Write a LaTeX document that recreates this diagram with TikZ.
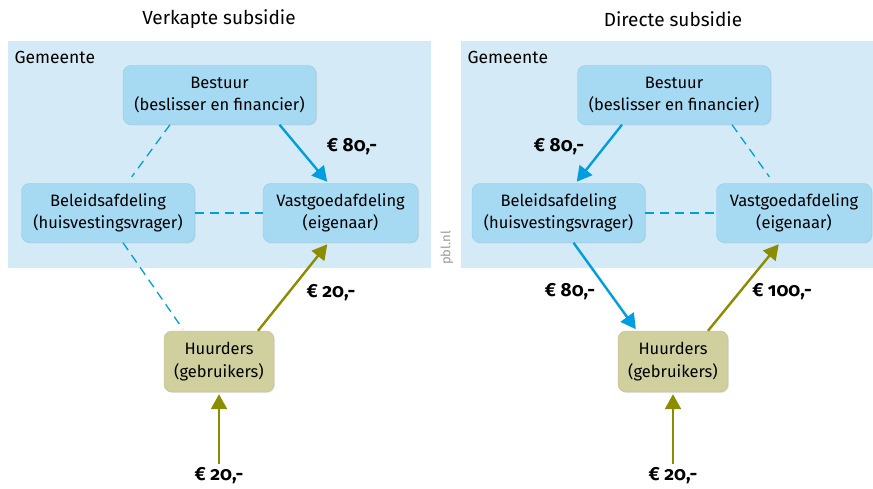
\documentclass[tikz,border=0pt]{standalone}
\usepackage{fontspec}
\setmainfont{Fira Sans}
\newfontfamily\amountfont[Numbers=OldStyle]{Fira Sans}
\usetikzlibrary{arrows.meta,positioning,shadows}
\definecolor{panelblue}{HTML}{D4EBF7}
\definecolor{boxblue}{HTML}{A6D9F2}
\definecolor{boxedge}{HTML}{93CBE8}
\definecolor{boxolive}{HTML}{D0D09E}
\definecolor{oliveedge}{HTML}{BDBD8A}
\definecolor{flowblue}{HTML}{009EE0}
\definecolor{flowolive}{HTML}{8C8C00}
\definecolor{markgray}{HTML}{9A9A9A}
\tikzset{
unit/.style={draw=boxedge,fill=boxblue,rounded corners=8pt,minimum height=59pt,align=center,font=\fontsize{16.5}{22.5}\selectfont,drop shadow={opacity=.2,shadow xshift=1pt,shadow yshift=-1pt}},
tenant/.style={unit,draw=oliveedge,fill=boxolive,minimum width=110pt,minimum height=61pt},
amount/.style={font=\amountfont\bfseries\fontsize{19}{21}\selectfont},
title/.style={font=\fontsize{19}{21}\selectfont},
moneyblue/.style={-{Triangle[length=15pt,width=16pt]},line width=2.4pt,flowblue,shorten >=2pt},
moneyolive/.style={-{Triangle[length=15pt,width=16pt]},line width=2.4pt,flowolive,shorten >=2pt},
link/.style={draw=flowblue,line width=1.3pt,dash pattern=on 9pt off 6pt}
}
\begin{document}
\begin{tikzpicture}[x=1pt,y=-1pt]
\useasboundingbox (0,0) rectangle (873,489);
% verkapte subsidie
\node[title](titleA) at (219,19){Verkapte subsidie};
\fill[panelblue] (8,41) rectangle (431,268);
\node[anchor=west,font=\fontsize{17.5}{20}\selectfont](gemA) at (11,57){Gemeente};
\node[unit,minimum width=193pt](bestA) at (219.5,95){Bestuur\\(beslisser en financier)};
\node[unit,minimum width=173pt](beleidA) at (108,213){Beleidsafdeling\\(huisvestingsvrager)};
\node[unit,minimum width=155pt](vastA) at (340.5,213){Vastgoedafdeling\\(eigenaar)};
\node[tenant](huurA) at (219,361.5){Huurders\\(gebruikers)};
\node[amount](bvA) at (352,147){€ 80,-};
\node[amount](hvA) at (331,293){€ 20,-};
\node[amount](inA) at (219,476){€ 20,-};
\draw[link,shorten >=8pt]([xshift=-49.5pt]bestA.south)--([xshift=19pt]beleidA.north);
\draw[link](beleidA.east)--(vastA.west);
\draw[link,shorten >=2pt]([xshift=15pt]beleidA.south)--([xshift=-35pt]huurA.north);
\draw[moneyblue]([xshift=60pt]bestA.south)--([xshift=-12pt]vastA.north);
\draw[moneyolive]([xshift=39pt]huurA.north)--([xshift=-12pt]vastA.south);
\draw[moneyolive](inA.north)--(huurA.south);
\node[rotate=90,text=markgray,font=\fontsize{13}{15}\selectfont](pbl) at (447,248){pbl.nl};
% directe subsidie
\node[title](titleB) at (673,19){Directe subsidie};
\fill[panelblue] (461,41) rectangle (873,268);
\node[anchor=west,font=\fontsize{17.5}{20}\selectfont](gemB) at (464,57){Gemeente};
\node[unit,minimum width=193pt](bestB) at (674,95){Bestuur\\(beslisser en financier)};
\node[unit,minimum width=173pt](beleidB) at (558.5,213){Beleidsafdeling\\(huisvestingsvrager)};
\node[unit,minimum width=155pt](vastB) at (794,213){Vastgoedafdeling\\(eigenaar)};
\node[tenant](huurB) at (673,361.5){Huurders\\(gebruikers)};
\node[amount](bbB) at (559,147){€ 80,-};
\node[amount](bhB) at (570,292){€ 80,-};
\node[amount](hvB) at (782,292){€ 100,-};
\node[amount](inB) at (673,476){€ 20,-};
\draw[link,shorten >=8pt]([xshift=58pt]bestB.south)--([xshift=-20pt]vastB.north);
\draw[link](beleidB.east)--(vastB.west);
\draw[moneyblue]([xshift=-52pt]bestB.south)--([xshift=17pt]beleidB.north);
\draw[moneyblue]([xshift=15pt]beleidB.south)--([xshift=-36pt]huurB.north);
\draw[moneyolive]([xshift=35pt]huurB.north)--([xshift=-14pt]vastB.south);
\draw[moneyolive](inB.north)--(huurB.south);
\end{tikzpicture}
\end{document}
